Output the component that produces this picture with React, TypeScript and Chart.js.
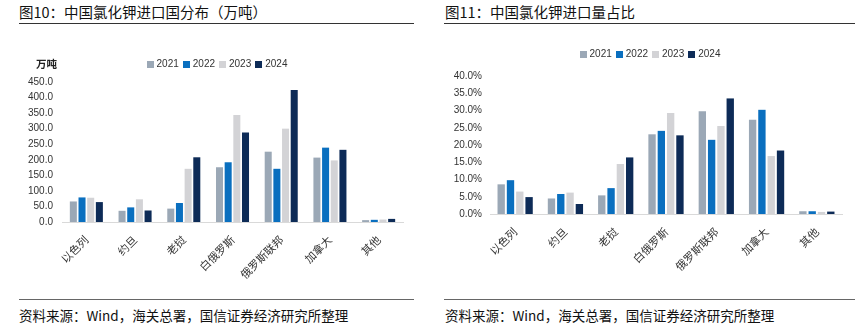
import React, { useEffect, useRef } from "react";
import { Chart, registerables } from "chart.js";

Chart.register(...registerables);

// ---------- data ----------
const categories = ["以色列", "约旦", "老挝", "白俄罗斯", "俄罗斯联邦", "加拿大", "其他"];
const years = ["2021", "2022", "2023", "2024"];
const colors = ["#9BA8B6", "#0A6FBF", "#D3D3D6", "#0D2B57"];

// 图10 进口量（万吨）
const volume2021 = [66, 36, 43, 176, 226, 207, 6];
const volume2022 = [79, 47, 61, 192, 171, 239, 7];
const volume2023 = [78, 73, 171, 344, 300, 198, 8];
const volume2024 = [64, 37, 208, 288, 424, 232, 10];
const volumeTicks = [0, 50, 100, 150, 200, 250, 300, 350, 400, 450];

// 图11 进口量占比（%）
const share2021 = [8.6, 4.5, 5.4, 23.1, 29.8, 27.3, 0.8];
const share2022 = [9.8, 5.8, 7.5, 24.1, 21.5, 30.2, 0.8];
const share2023 = [6.5, 6.2, 14.5, 29.3, 25.5, 16.8, 0.6];
const share2024 = [4.9, 2.9, 16.4, 22.8, 33.5, 18.4, 0.7];
const shareTicks = [0, 5, 10, 15, 20, 25, 30, 35, 40];

const leftTitle = "图10：中国氯化钾进口国分布（万吨）";
const rightTitle = "图11：中国氯化钾进口量占比";
const sourceText = "资料来源：Wind，海关总署，国信证券经济研究所整理";
const unitLabel = "万吨";

const FONT = '"Liberation Sans", "Noto Sans CJK SC", Arial, sans-serif';
const CJK = '"Noto Sans CJK SC", "Liberation Sans", sans-serif';

const legendPlugin = {
  id: "customLegend",
  afterDraw(chart: any, _args: any, opts: any) {
    const ctx = chart.ctx;
    const ds = chart.data.datasets;
    ctx.save();
    ctx.font = `${opts.fontSize}px ${FONT}`;
    const box = opts.box;
    const widths = ds.map((d: any) => box + opts.boxGap + ctx.measureText(d.label).width);
    const total = widths.reduce((a: number, b: number) => a + b, 0) + opts.itemGap * (ds.length - 1);
    let x = opts.centerX - total / 2;
    const y = opts.y;
    ds.forEach((d: any, i: number) => {
      ctx.fillStyle = d.backgroundColor;
      ctx.fillRect(Math.round(x), Math.round(y - box / 2), box, box);
      ctx.fillStyle = "#333333";
      ctx.textBaseline = "middle";
      ctx.textAlign = "left";
      ctx.fillText(d.label, x + box + opts.boxGap, y + 0.5);
      x += widths[i] + opts.itemGap;
    });
    if (opts.unit) {
      ctx.font = `bold 10.5px ${CJK}`;
      ctx.fillStyle = "#222222";
      ctx.textAlign = "left";
      ctx.fillText(opts.unit, opts.unitX, y);
    }
    ctx.restore();
  },
};

type Props = {
  width: number;
  height: number;
  series: number[][];
  ticks: number[];
  fmt: (v: number) => string;
  areaLeft: number;
  areaRight: number;
  areaTop: number;
  xAxisHeight: number;
  tickGap: number;
  legendX: number;
  legendY: number;
  unit?: string;
  unitX?: number;
  catPct: number;
  barPct: number;
};

function BarChart(p: Props) {
  const ref = useRef<HTMLCanvasElement | null>(null);
  useEffect(() => {
    if (!ref.current) return;
    const chart = new Chart(ref.current, {
      type: "bar",
      data: {
        labels: categories,
        datasets: years.map((y, i) => ({
          label: y,
          data: p.series[i],
          backgroundColor: colors[i],
          borderWidth: 0,
          categoryPercentage: p.catPct,
          barPercentage: p.barPct,
        })),
      },
      options: {
        responsive: false,
        animation: false,
        devicePixelRatio: 1,
        layout: { padding: { top: p.areaTop, right: p.width - p.areaRight, left: 0, bottom: 0 } },
        plugins: {
          legend: { display: false },
          tooltip: { enabled: false },
          customLegend: {
            centerX: p.legendX,
            y: p.legendY,
            fontSize: 10,
            box: 7,
            boxGap: 3,
            itemGap: 4,
            unit: p.unit,
            unitX: p.unitX,
          },
        } as any,
        scales: {
          x: {
            grid: { display: false, drawTicks: false },
            border: { display: true, color: "#D9D9D9", width: 1 },
            ticks: {
              minRotation: 45,
              maxRotation: 45,
              padding: 11,
              color: "#333333",
              font: { family: CJK, size: 11 },
              autoSkip: false,
            },
            afterFit: (s: any) => {
              s.height = p.xAxisHeight;
            },
          },
          y: {
            min: p.ticks[0],
            max: p.ticks[p.ticks.length - 1],
            grid: { display: false, drawTicks: false },
            border: { display: false },
            afterBuildTicks: (s: any) => {
              s.ticks = p.ticks.map((v) => ({ value: v }));
            },
            ticks: {
              padding: p.tickGap,
              color: "#333333",
              font: { family: FONT, size: 10 },
              callback: (v: any) => p.fmt(Number(v)),
            },
            afterFit: (s: any) => {
              s.width = p.areaLeft;
            },
          },
        },
      },
      plugins: [legendPlugin as any],
    });
    return () => chart.destroy();
  }, []);
  return <canvas ref={ref} width={p.width} height={p.height} style={{ display: "block" }} />;
}

const abs = (l: number, t: number, extra: React.CSSProperties = {}): React.CSSProperties => ({
  position: "absolute",
  left: l,
  top: t,
  ...extra,
});

export default function App() {
  useEffect(() => {
    document.body.style.margin = "0";
  }, []);
  const titleStyle: React.CSSProperties = {
    fontFamily: CJK,
    fontSize: 14.5,
    lineHeight: "20px",
    color: "#111",
    whiteSpace: "nowrap",
  };
  const sourceStyle: React.CSSProperties = {
    fontFamily: CJK,
    fontSize: 13.5,
    lineHeight: "18px",
    color: "#111",
    whiteSpace: "nowrap",
  };
  return (
    <div style={{ position: "absolute", left: 0, top: 0, width: 863, height: 328, background: "#fff", overflow: "hidden" }}>
      {/* left panel */}
      <div style={abs(19, 2, titleStyle)}>{leftTitle}</div>
      <div style={abs(19, 23, { width: 395, height: 1, background: "#333" })} />
      <div style={abs(19, 40)}>
        <BarChart
          width={395}
          height={255}
          series={[volume2021, volume2022, volume2023, volume2024]}
          ticks={volumeTicks}
          fmt={(v) => v.toFixed(1)}
          areaLeft={43}
          areaRight={384}
          areaTop={42}
          xAxisHeight={73}
          tickGap={9}
          legendX={198}
          legendY={24}
          unit={unitLabel}
          unitX={17}
          catPct={0.712}
          barPct={0.81}
        />
      </div>
      <div style={abs(19, 299, { width: 395, height: 1, background: "#666" })} />
      <div style={abs(19, 306, sourceStyle)}>{sourceText}</div>

      {/* right panel */}
      <div style={abs(445, 2, titleStyle)}>{rightTitle}</div>
      <div style={abs(444, 23, { width: 411, height: 1, background: "#333" })} />
      <div style={abs(444, 40)}>
        <BarChart
          width={411}
          height={255}
          series={[share2021, share2022, share2023, share2024]}
          ticks={shareTicks}
          fmt={(v) => v.toFixed(1) + "%"}
          areaLeft={46}
          areaRight={398}
          areaTop={36}
          xAxisHeight={81}
          tickGap={8}
          legendX={206}
          legendY={14}
          catPct={0.74}
          barPct={0.79}
        />
      </div>
      <div style={abs(444, 299, { width: 411, height: 1, background: "#666" })} />
      <div style={abs(445, 306, sourceStyle)}>{sourceText}</div>
    </div>
  );
}
